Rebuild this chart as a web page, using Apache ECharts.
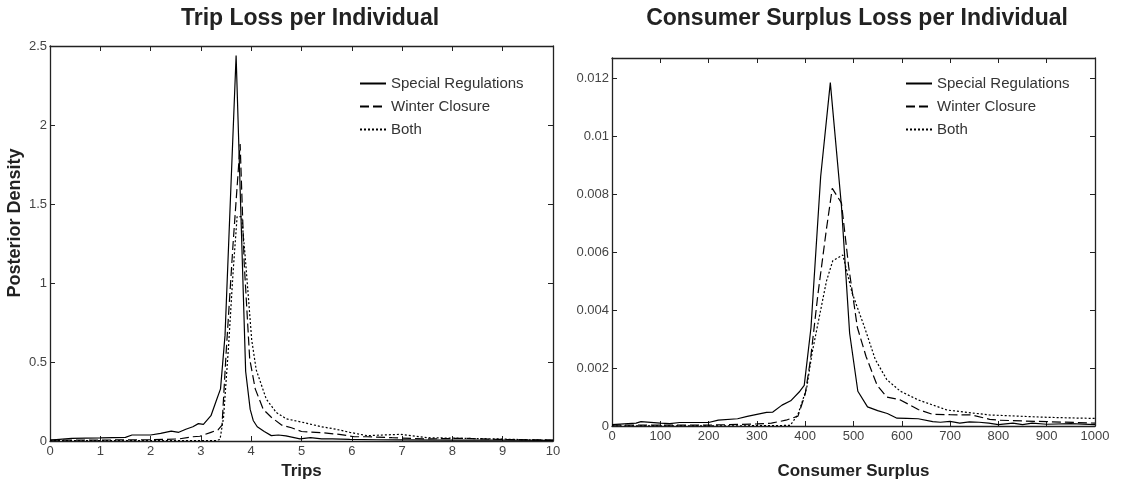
<!DOCTYPE html>
<html><head><meta charset="utf-8">
<script src="https://cdn.jsdelivr.net/npm/echarts@6/dist/echarts.min.js"></script>
<style>html,body{margin:0;padding:0;background:#fff}#c{width:1122px;height:485px}</style>
</head><body><div id="c"></div>
<script>
// ---- Left panel: Trip Loss per Individual ----
const tripSpecialX = [0,0.43,1.0,1.5,1.63,2.0,2.2,2.41,2.56,2.7,2.84,2.95,3.05,3.2,3.3,3.39,3.48,3.7,3.89,3.98,4.04,4.12,4.26,4.4,4.54,4.69,4.97,5.18,5.4,5.61,5.96,6.5,7,8,9,10];
const tripSpecialY = [0.006,0.017,0.02,0.023,0.038,0.038,0.048,0.063,0.055,0.074,0.09,0.11,0.105,0.16,0.25,0.33,0.67,2.44,0.44,0.2,0.13,0.09,0.06,0.034,0.038,0.032,0.013,0.021,0.013,0.013,0.01,0.008,0.007,0.006,0.005,0.004];
const tripWinterX = [0,1,2,2.56,2.84,2.98,3.2,3.34,3.42,3.5,3.64,3.78,3.86,3.97,4.08,4.24,4.4,4.61,4.8,5.0,5.4,5.75,6.05,6.3,6.8,7.5,8.2,8.9,10];
const tripWinterY = [0.005,0.006,0.008,0.013,0.027,0.03,0.055,0.07,0.1,0.55,1.25,1.88,1.13,0.52,0.33,0.2,0.15,0.1,0.084,0.06,0.053,0.042,0.027,0.027,0.021,0.013,0.017,0.01,0.006];
const tripBothX = [0,1,2,3,3.3,3.38,3.45,3.55,3.64,3.72,3.81,3.88,4.01,4.1,4.3,4.5,4.7,5.0,5.4,5.68,5.96,6.3,6.96,7.5,8.2,8.9,10];
const tripBothY = [0.003,0.003,0.003,0.002,0.003,0.01,0.15,0.6,1.07,1.42,1.42,1.17,0.64,0.45,0.265,0.18,0.14,0.12,0.09,0.075,0.055,0.034,0.042,0.021,0.017,0.013,0.004];
const tripXTicks = [0,10,1];      // min, max, interval
const tripYTicks = [0,2.5,0.5];

// ---- Right panel: Consumer Surplus Loss per Individual ----
const csSpecialX = [0,50,60,100,120,140,200,220,260,280,300,320,333,352,370,389,398,412,432,452,475,492,509,529,550,570,590,610,634,664,680,700,720,740,760,780,800,830,850,870,900,950,1000];
const csSpecialY = [0.00005,0.0001,0.00015,0.0001,0.00008,0.00012,0.00012,0.0002,0.00025,0.00033,0.0004,0.00047,0.00048,0.00072,0.00087,0.0012,0.0014,0.0034,0.0086,0.01185,0.0076,0.0032,0.0012,0.00066,0.00053,0.00043,0.00027,0.00026,0.00025,0.00015,0.00013,0.00016,0.0001,0.00014,0.00013,0.0001,0.00005,0.0001,0.00005,0.0001,0.00006,0.00008,0.00005];
const csWinterX = [0,200,300,330,360,385,400,411,426,444,456,475,490,508,526,549,569,597,634,664,700,745,782,800,900,1000];
const csWinterY = [0.00003,0.00003,0.00007,0.0001,0.0002,0.00034,0.0011,0.0023,0.0045,0.0068,0.0082,0.0077,0.0055,0.0034,0.0024,0.0014,0.001,0.0009,0.00057,0.0004,0.00039,0.00038,0.00023,0.0002,0.00015,0.0001];
const csBothX = [0,300,369,385,403,414,432,444,457,478,497,523,545,569,597,634,694,782,900,1000];
const csBothY = [0,0.00001,0.00002,0.0004,0.0013,0.0025,0.004,0.005,0.0057,0.0059,0.0046,0.0034,0.0023,0.0016,0.0012,0.0009,0.00055,0.00038,0.0003,0.00026];
const csXTicks = [0,1000,100];
const csYTicks = [0,0.0127,0.002];

const seriesNames = ['Special Regulations','Winter Closure','Both'];
const lineTypes = ['solid',[9,4],[2,2]];

const pairs = (xs, ys) => xs.map((x,i)=>[x, ys[i]]);
const FONT = 'Liberation Sans, Arial, sans-serif';
const LAB = {color:'#444', fontSize:13, fontFamily:FONT};
const NAMEF = {color:'#222', fontSize:17, fontWeight:'bold', fontFamily:FONT};
const FRAME = {show:true, onZero:false, lineStyle:{color:'#222', width:1.3}};
const TICK = {show:true, inside:true, length:5, lineStyle:{color:'#222'}};

function axesFor(grid, xt, yt, xName, xGap, yFmt) {
  const x = {
    type:'value', gridIndex:grid, min:xt[0], max:xt[1], interval:xt[2],
    axisLine:FRAME, axisTick:TICK,
    axisLabel:{...LAB, margin:4, formatter:v=>String(v)}, splitLine:{show:false},
    name:xName, nameLocation:'middle', nameGap:xGap, nameTextStyle:NAMEF
  };
  const xTop = {
    type:'value', gridIndex:grid, position:'top', min:xt[0], max:xt[1], interval:xt[2],
    axisLine:FRAME, axisTick:TICK, axisLabel:{show:false}, splitLine:{show:false}
  };
  const y = {
    type:'value', gridIndex:grid, min:yt[0], max:yt[1], interval:yt[2],
    axisLine:FRAME, axisTick:TICK,
    axisLabel:{...LAB, margin:3, formatter:yFmt}, splitLine:{show:false}
  };
  const yRight = {
    type:'value', gridIndex:grid, position:'right', min:yt[0], max:yt[1], interval:yt[2],
    axisLine:FRAME, axisTick:TICK, axisLabel:{show:false}, splitLine:{show:false}
  };
  return {x:[x,xTop], y:[y,yRight]};
}

const A1 = axesFor(0, tripXTicks, tripYTicks, 'Trips', 22, v=>String(v));
const A2 = axesFor(1, csXTicks, csYTicks, 'Consumer Surplus', 37,
  v => (Math.abs(v - Math.round(v/0.002)*0.002) < 1e-9 ? String(+v.toFixed(4)) : ''));

const leftData = [pairs(tripSpecialX,tripSpecialY), pairs(tripWinterX,tripWinterY), pairs(tripBothX,tripBothY)];
const rightData = [pairs(csSpecialX,csSpecialY), pairs(csWinterX,csWinterY), pairs(csBothX,csBothY)];

const series = [];
seriesNames.forEach((n,i)=>{
  series.push({name:n, type:'line', xAxisIndex:0, yAxisIndex:0, data:leftData[i], symbol:'none', animation:false,
    lineStyle:{color:'#000', width:1.2, type:lineTypes[i]}, itemStyle:{color:'#000'}});
});
seriesNames.forEach((n,i)=>{
  series.push({name:n, type:'line', xAxisIndex:2, yAxisIndex:2, data:rightData[i], symbol:'none', animation:false,
    lineStyle:{color:'#000', width:1.2, type:lineTypes[i]}, itemStyle:{color:'#000'}});
});

const LEGTXT = {color:'#333', fontSize:15, fontFamily:FONT};
const legendCommon = {data:seriesNames, orient:'vertical', top:71, itemWidth:26, itemHeight:12, itemGap:8,
  textStyle:LEGTXT, selectedMode:false, itemStyle:{opacity:0}};
const option = {
  backgroundColor:'#fff',
  animation:false,
  title:[
    {text:'Trip Loss per Individual', left:305, top:2, textAlign:'center',
     textStyle:{fontSize:23, fontWeight:'bold', color:'#222', fontFamily:FONT}},
    {text:'Consumer Surplus Loss per Individual', left:852, top:2, textAlign:'center',
     textStyle:{fontSize:23, fontWeight:'bold', color:'#222', fontFamily:FONT}}
  ],
  legend:[
    {...legendCommon, left:354},
    {...legendCommon, left:900}
  ],
  grid:[
    {left:50, top:46, width:503, height:396, show:false},
    {left:612, top:58, width:483, height:372, show:false}
  ],
  xAxis:[...A1.x, ...A2.x],
  yAxis:[...A1.y, ...A2.y],
  graphic:[
    {type:'text', x:15, y:223, rotation:Math.PI/2,
     style:{text:'Posterior Density', fill:'#222', font:'bold 18px Liberation Sans, Arial, sans-serif',
            textAlign:'center', textVerticalAlign:'middle'}}
  ],
  series:series
};
const chart = echarts.init(document.getElementById('c'), null, {renderer:'canvas'});
chart.setOption(option);
</script></body></html>
